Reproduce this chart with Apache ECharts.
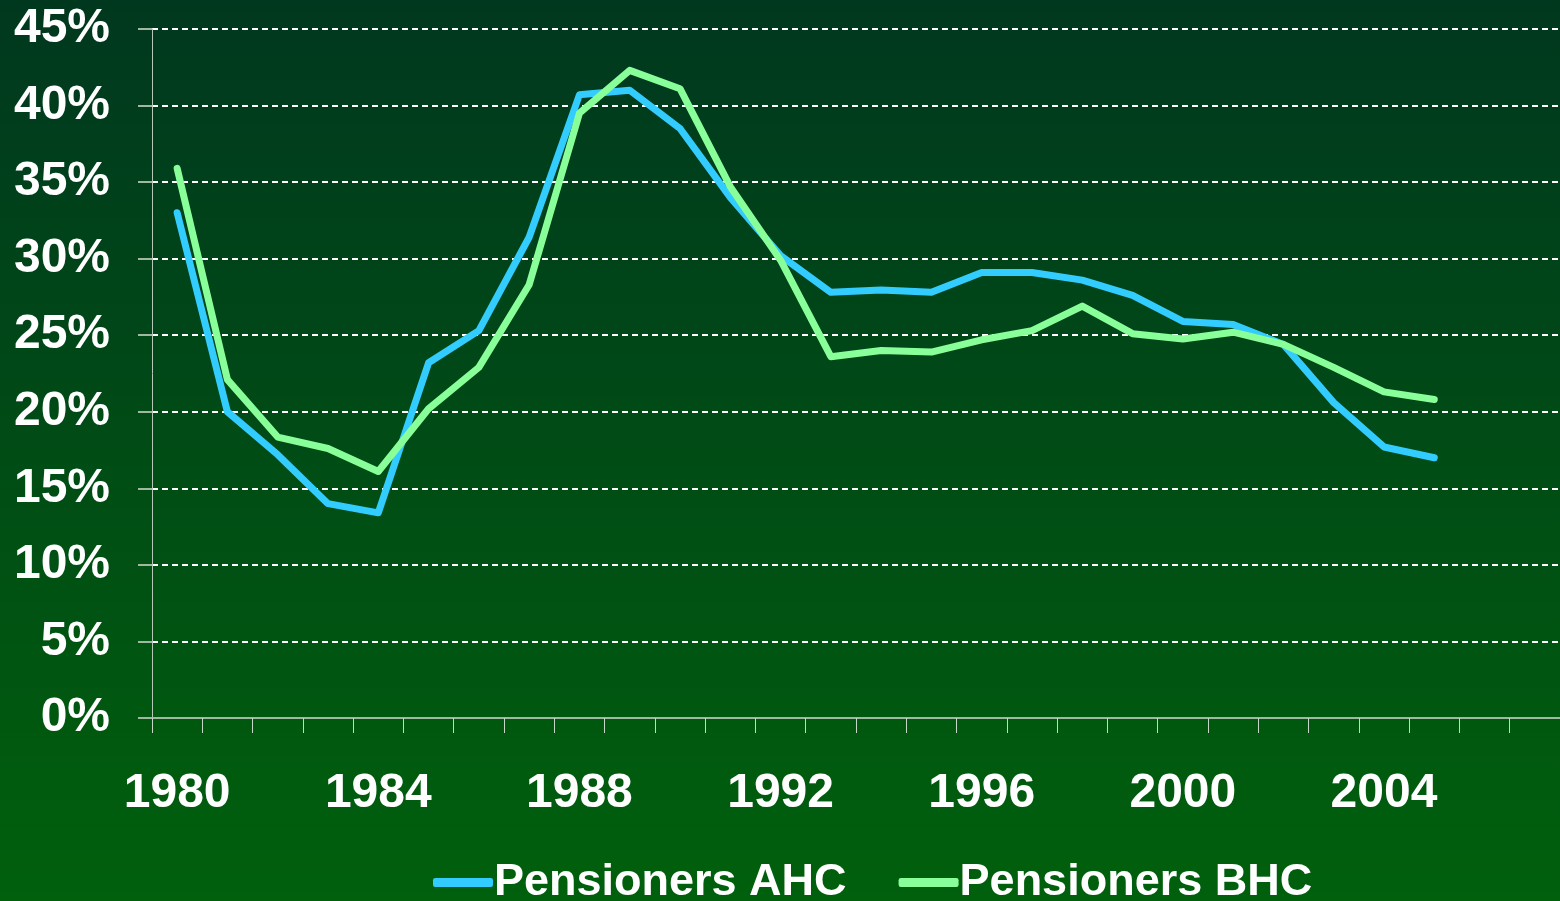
<!DOCTYPE html>
<html>
<head>
<meta charset="utf-8">
<title>Pensioners</title>
<script src="https://cdn.jsdelivr.net/npm/echarts@6/dist/echarts.min.js"></script>
<style>
  html, body { margin: 0; padding: 0; }
  #main { width: 1560px; height: 901px; }
</style>
</head>
<body>
<div id="main"></div>
<script>
// years on the x axis (axis runs on to 2007, data stops at 2005)
var years = [];
for (var y = 1980; y <= 2007; y++) years.push(String(y));

// percentages
var ahc = [33.0, 20.0, 17.2, 14.0, 13.4, 23.2, 25.3, 31.4, 40.7, 41.0,
           38.5, 34.0, 30.2, 27.8, 27.95, 27.8, 29.1, 29.1, 28.6, 27.6,
           25.9, 25.7, 24.4, 20.6, 17.7, 17.0];
var bhc = [35.9, 22.1, 18.35, 17.6, 16.1, 20.2, 22.9, 28.3, 39.5, 42.3,
           41.1, 34.7, 29.9, 23.6, 24.0, 23.9, 24.7, 25.3, 26.9, 25.1,
           24.75, 25.2, 24.4, 22.9, 21.3, 20.8];

var seriesNames = ['Pensioners AHC', 'Pensioners BHC'];

var chart = echarts.init(document.getElementById('main'));
var font = '"Liberation Sans", Arial, sans-serif';

var option = {
  backgroundColor: {
    type: 'linear', x: 0, y: 0, x2: 0, y2: 1,
    colorStops: [
      { offset: 0, color: '#00381f' },
      { offset: 1, color: '#00600c' }
    ]
  },
  textStyle: { fontFamily: font },
  grid: { left: 152, right: 0, top: 29, bottom: 183 },
  legend: {
    data: seriesNames,
    bottom: -9,
    left: 428,
    icon: 'roundRect',
    itemWidth: 60,
    itemHeight: 9,
    itemGap: 52,
    textStyle: {
      color: '#ffffff', fontSize: 45, fontWeight: 'bold',
      fontFamily: font, padding: [0, 0, 0, -4]
    }
  },
  xAxis: {
    type: 'category',
    data: years,
    boundaryGap: true,
    axisLine: { lineStyle: { color: '#9fb89f', width: 2 } },
    axisTick: { show: true, interval: 0, length: 15, lineStyle: { color: '#c8d8c8', width: 1 } },
    axisLabel: {
      interval: 3, color: '#ffffff', fontSize: 48, fontWeight: 'bold',
      fontFamily: font, margin: 52
    },
    splitLine: { show: false }
  },
  yAxis: {
    type: 'value',
    min: 0, max: 45, interval: 5,
    axisLine: { show: true, lineStyle: { color: '#b8c8b8', width: 1 } },
    axisTick: { show: true, length: 14, lineStyle: { color: '#9fb89f', width: 2 } },
    axisLabel: {
      formatter: '{value}%', color: '#ffffff', fontSize: 48, fontWeight: 'bold',
      fontFamily: font, margin: 42
    },
    splitLine: { show: true, lineStyle: { color: '#ffffff', width: 2, type: [6, 4] } }
  },
  series: [
    {
      name: seriesNames[0],
      type: 'line',
      data: ahc,
      symbol: 'none',
      color: '#33ccff',
      lineStyle: { width: 7, cap: 'round', join: 'round' },
      z: 3
    },
    {
      name: seriesNames[1],
      type: 'line',
      data: bhc,
      symbol: 'none',
      color: '#88ff99',
      lineStyle: { width: 7, cap: 'round', join: 'round' },
      z: 4
    }
  ],
  animation: false
};

chart.setOption(option);
</script>
</body>
</html>
